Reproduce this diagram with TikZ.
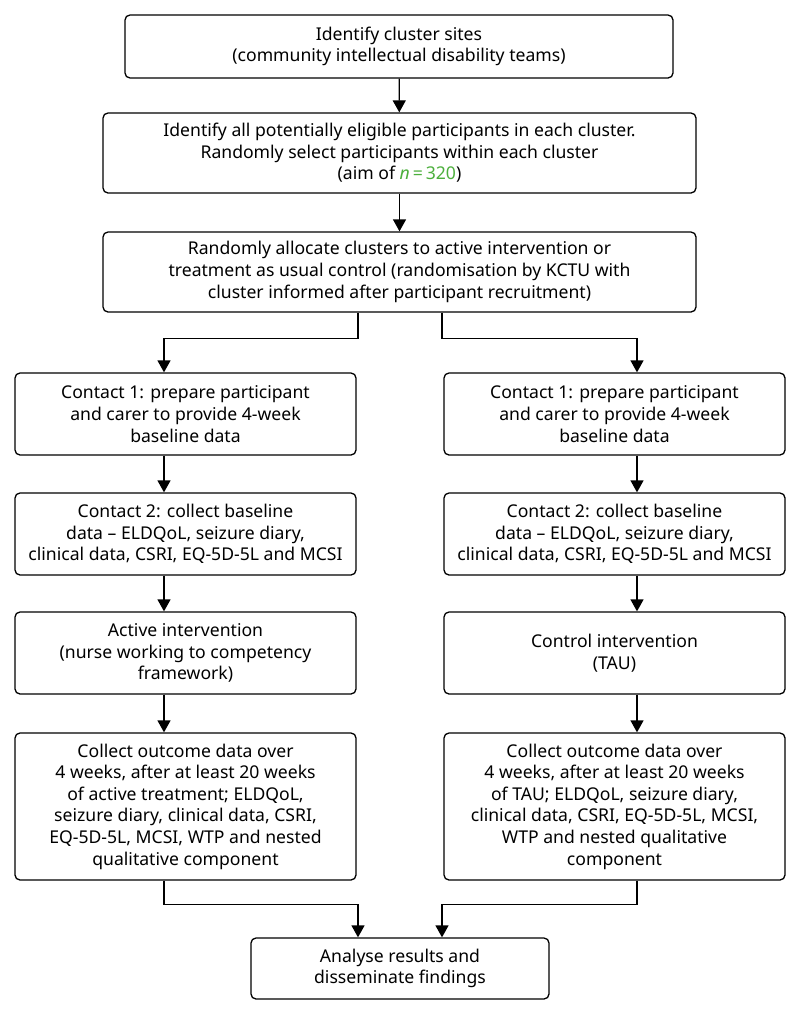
\documentclass[tikz,border=0pt]{standalone}
\usepackage{fontspec}
\setmainfont{Noto Sans}
\usetikzlibrary{arrows.meta}
\definecolor{ngreen}{RGB}{76,175,60}
\begin{document}
\begin{tikzpicture}[x=1pt,y=-1pt,
  box/.style={draw,line width=1.3pt,rounded corners=5pt,inner sep=0pt,align=center,
    font=\fontsize{17.6}{21.6}\selectfont},
  arr/.style={line width=1.3pt,-{Triangle[length=12pt,width=13pt]}}]
\useasboundingbox[fill=white] (0,0) rectangle (800,1015);
\coordinate (la) at (164,0);
\coordinate (ra) at (637,0);
\coordinate (ml) at (358,0);
\coordinate (mr) at (442,0);
\node[box,minimum width=548pt,minimum height=63pt] (b1) at (399,46.5)
  {Identify cluster sites\\(community intellectual disability teams)};
\node[box,minimum width=593pt,minimum height=80pt] (b2) at (399.5,153)
  {Identify all potentially eligible participants in each cluster.\\Randomly select participants within each cluster\\(aim of \textcolor{ngreen}{\textit{n}\,=\,320})};
\node[box,minimum width=593pt,minimum height=80pt] (b3) at (399.5,272)
  {Randomly allocate clusters to active intervention or\\treatment as usual control (randomisation by KCTU with\\cluster informed after participant recruitment)};
\node[box,minimum width=341pt,minimum height=82pt] (L1) at (185.5,414)
  {Contact 1: prepare participant\\and carer to provide 4-week\\baseline data};
\node[box,minimum width=341pt,minimum height=82pt] (R1) at (614.5,414)
  {Contact 1: prepare participant\\and carer to provide 4-week\\baseline data};
\node[box,minimum width=341pt,minimum height=82pt] (L2) at (185.5,534)
  {Contact 2: collect baseline\\data -- ELDQoL, seizure diary,\\clinical data, CSRI, EQ-5D-5L and MCSI};
\node[box,minimum width=341pt,minimum height=82pt] (R2) at (614.5,534)
  {Contact 2: collect baseline\\data -- ELDQoL, seizure diary,\\clinical data, CSRI, EQ-5D-5L and MCSI};
\node[box,minimum width=341pt,minimum height=82pt] (L3) at (185.5,653)
  {Active intervention\\(nurse working to competency\\framework)};
\node[box,minimum width=341pt,minimum height=82pt] (R3) at (614.5,653)
  {Control intervention\\(TAU)};
\node[box,minimum width=341pt,minimum height=147pt] (L4) at (185.5,806.5)
  {Collect outcome data over\\4 weeks, after at least 20 weeks\\of active treatment; ELDQoL,\\seizure diary, clinical data, CSRI,\\EQ-5D-5L, MCSI, WTP and nested\\qualitative component};
\node[box,minimum width=341pt,minimum height=147pt] (R4) at (614.5,806.5)
  {Collect outcome data over\\4 weeks, after at least 20 weeks\\of TAU; ELDQoL, seizure diary,\\clinical data, CSRI, EQ-5D-5L, MCSI,\\WTP and nested qualitative\\component};
\node[box,minimum width=298pt,minimum height=61pt] (F) at (400,968.5)
  {Analyse results and\\disseminate findings};
\draw[arr] (b1) -- (b2);
\draw[arr] (b2) -- (b3);
\draw[arr] (b3.south -| ml) -- ++(0,26) -| (L1.north -| la);
\draw[arr] (b3.south -| mr) -- ++(0,26) -| (R1.north -| ra);
\draw[arr] (L1.south -| la) -- (L2.north -| la);
\draw[arr] (L2.south -| la) -- (L3.north -| la);
\draw[arr] (L3.south -| la) -- (L4.north -| la);
\draw[arr] (R1.south -| ra) -- (R2.north -| ra);
\draw[arr] (R2.south -| ra) -- (R3.north -| ra);
\draw[arr] (R3.south -| ra) -- (R4.north -| ra);
\draw[arr] (L4.south -| la) -- ++(0,24) -| (F.north -| ml);
\draw[arr] (R4.south -| ra) -- ++(0,24) -| (F.north -| mr);
\end{tikzpicture}
\end{document}
